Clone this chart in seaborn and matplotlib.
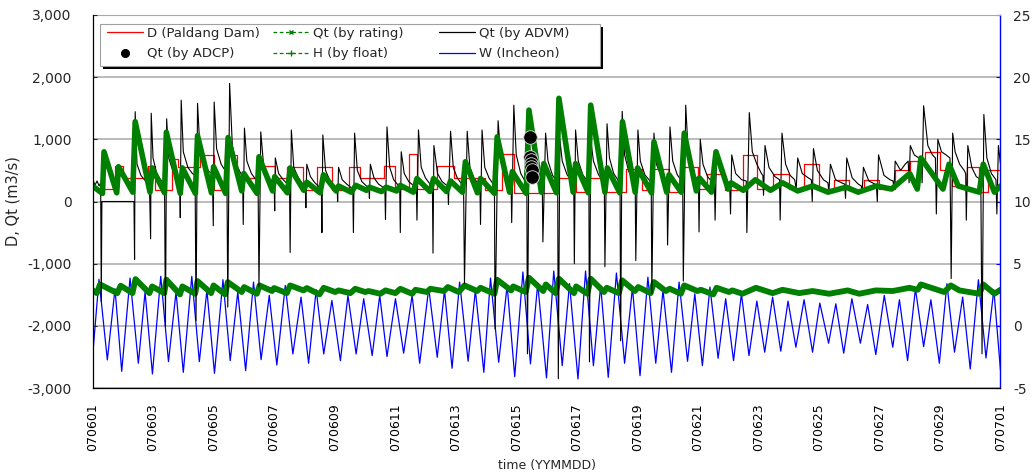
import numpy as np
import pandas as pd
import matplotlib
matplotlib.use("Agg")
import matplotlib.pyplot as plt
from matplotlib.lines import Line2D
from matplotlib.patches import Rectangle
from matplotlib.ticker import FuncFormatter, MultipleLocator
import seaborn as sns

# ---------------- data (time in days since 2007-06-01 00:00) ----------------
x_tick_labels = ["070601", "070603", "070605", "070607", "070609", "070611", "070613", "070615",
                 "070617", "070619", "070621", "070623", "070625", "070627", "070629", "070701"]

# W (Incheon) tide level [m], right axis: extrema
W_t = [0.00, 0.215, 0.49, 0.744, 0.965, 1.24, 1.515, 1.737, 1.98, 2.255,
       2.51, 2.76, 3.00, 3.28, 3.53, 3.78, 4.03, 4.31, 4.55, 4.80,
       5.06, 5.32, 5.57, 5.84, 6.09, 6.37, 6.62, 6.89, 7.14, 7.39,
       7.64, 7.91, 8.19, 8.44, 8.71, 8.96, 9.24, 9.49, 9.73, 10.01,
       10.28, 10.56, 10.81, 11.11, 11.39, 11.63, 11.88, 12.13, 12.41, 12.65,
       12.93, 13.15, 13.42, 13.70, 13.95, 14.22, 14.47, 14.71, 15.00, 15.24,
       15.52, 15.76, 16.04, 16.29, 16.55, 16.79, 17.04, 17.31, 17.58, 17.84,
       18.09, 18.35, 18.61, 18.85, 19.13, 19.38, 19.66, 19.90, 20.15, 20.40,
       20.67, 20.92, 21.18, 21.44, 21.69, 21.95, 22.21, 22.47, 22.74, 22.98,
       23.24, 23.51, 23.79, 24.03, 24.32, 24.56, 24.82, 25.09, 25.37, 25.61,
       25.88, 26.16, 26.44, 26.66, 26.93, 27.19, 27.46, 27.70, 27.98, 28.23,
       28.48, 28.75, 29.00, 29.27, 29.52, 29.78, 30.00]
W_v = [-2.53, 3.74, -2.74, 2.98, -3.66, 3.84, -3.01, 2.72, -3.87, 3.98,
       -2.88, 2.72, -3.74, 3.98, -2.88, 2.85, -3.82, 3.71, -2.80, 2.72,
       -3.60, 3.52, -2.72, 2.45, -3.15, 3.25, -2.26, 2.31, -3.01, 2.90,
       -2.26, 2.04, -2.80, 2.45, -2.26, 2.18, -2.39, 2.45, -2.47, 2.18,
       -2.20, 2.45, -3.01, 3.04, -2.53, 2.85, -3.41, 3.52, -2.85, 2.85,
       -3.74, 3.84, -2.93, 3.25, -4.09, 4.33, -3.06, 3.39, -4.19, 4.41,
       -3.20, 3.39, -4.27, 4.41, -3.20, 3.25, -4.14, 4.25, -3.01, 3.06,
       -4.01, 3.92, -3.01, 2.85, -3.74, 3.52, -2.85, 2.58, -3.20, 3.12,
       -2.61, 2.18, -2.80, 2.58, -2.39, 1.99, -2.12, 2.31, -2.04, 1.99,
       -1.72, 2.10, -2.12, 1.83, -1.40, 1.77, -2.20, 2.18, -1.40, 1.72,
       -2.31, 2.45, -1.72, 2.10, -2.80, 2.98, -1.67, 2.10, -3.01, 3.39,
       -2.12, 2.31, -3.47, 3.71, -2.58, 2.90, -3.60]

# H (by float) [m], right axis
H_t = [0.00, 0.14, 0.25, 0.82, 0.93, 1.32, 1.42, 1.88, 1.97, 2.37,
       2.44, 2.89, 2.97, 3.39, 3.47, 3.92, 4.00, 4.38, 4.47, 4.93,
       5.01, 5.43, 5.52, 5.93, 6.00, 6.42, 6.53, 6.97, 7.08, 7.50,
       7.64, 8.02, 8.13, 8.52, 8.68, 9.01, 9.12, 9.51, 9.68, 10.01,
       10.17, 10.56, 10.67, 11.05, 11.16, 11.61, 11.74, 12.10, 12.29, 12.71,
       12.82, 13.28, 13.37, 13.83, 13.90, 14.31, 14.42, 14.89, 14.98, 15.30,
       15.41, 15.91, 15.98, 16.35, 16.46, 16.90, 16.99, 17.39, 17.50, 17.92,
       18.03, 18.44, 18.55, 18.94, 19.07, 19.44, 19.55, 19.99, 20.10, 20.51,
       20.62, 21.03, 21.14, 21.47, 21.92, 22.47, 22.80, 23.35, 23.79, 24.34,
       24.95, 25.33, 25.88, 26.44, 26.99, 27.26, 27.37, 28.14, 28.36, 28.64,
       29.30, 29.43, 29.80, 30.00]
H_v = [2.85, 2.63, 3.33, 2.63, 3.23, 2.63, 3.76, 2.63, 3.17, 2.63,
       3.71, 2.53, 3.17, 2.58, 3.60, 2.63, 3.25, 2.53, 3.52, 2.72,
       3.12, 2.58, 3.25, 2.80, 3.04, 2.63, 3.25, 2.85, 3.04, 2.53,
       3.06, 2.72, 2.85, 2.63, 2.98, 2.72, 2.80, 2.58, 2.85, 2.63,
       2.98, 2.58, 2.90, 2.72, 2.98, 2.80, 3.12, 2.72, 3.25, 2.80,
       3.06, 2.58, 3.71, 2.85, 3.17, 2.72, 3.87, 2.80, 3.33, 2.63,
       3.79, 2.63, 3.17, 2.58, 3.79, 2.72, 3.06, 2.63, 3.66, 2.80,
       3.12, 2.63, 3.52, 2.80, 2.98, 2.58, 3.25, 2.80, 2.90, 2.53,
       3.06, 2.72, 2.85, 2.58, 3.06, 2.63, 2.90, 2.63, 2.80, 2.58,
       2.85, 2.58, 2.85, 2.80, 3.06, 2.90, 3.33, 2.72, 3.25, 2.85,
       2.58, 3.33, 2.58, 2.90]

# D (Paldang Dam) [m3/s], step series
D_t = [0.0, 0.74, 1.02, 1.85, 2.07, 2.62, 2.84, 3.56, 4.0, 4.38,
       4.77, 5.54, 6.04, 6.42, 6.97, 7.42, 7.91, 8.46, 8.85, 9.62,
       10.01, 10.45, 10.72, 11.39, 11.94, 12.98, 13.54, 13.92, 15.30, 15.96,
       16.40, 16.95, 17.62, 18.17, 18.50, 19.05, 19.43, 20.0, 20.3, 20.9,
       21.5, 21.95, 22.5, 23.0, 23.5, 24.0, 24.5, 25.0, 25.5, 26.0,
       26.5, 27.0, 27.5, 28.0, 28.4, 28.9, 29.3, 29.6, 30.0]
D_v = [200, 570, 370, 570, 180, 690, 560, 750, 180, 740,
       370, 570, 370, 560, 180, 560, 180, 560, 370, 570,
       200, 760, 200, 570, 370, 180, 760, 130, 370, 150,
       370, 150, 530, 180, 530, 150, 560, 200, 450, 180,
       750, 200, 450, 200, 600, 200, 350, 180, 350, 200,
       500, 650, 800, 500, 250, 550, 150, 500, 500]

# Qt (by rating) [m3/s]
R_t = [0.00, 0.33, 0.38, 0.80, 0.86, 1.33, 1.41, 1.90, 1.97, 2.38,
       2.44, 2.90, 2.97, 3.40, 3.47, 3.93, 4.00, 4.40, 4.48, 4.93,
       5.00, 5.44, 5.50, 5.95, 6.02, 6.44, 6.53, 6.98, 7.08, 7.52,
       7.63, 8.05, 8.13, 8.55, 8.70, 9.05, 9.15, 9.55, 9.70, 10.05,
       10.17, 10.60, 10.72, 11.15, 11.27, 11.70, 11.83, 12.22, 12.32, 12.72,
       12.82, 13.28, 13.37, 13.78, 13.87, 14.33, 14.42, 14.83, 14.91, 15.33,
       15.41, 15.88, 15.96, 16.38, 16.46, 16.93, 17.01, 17.42, 17.51, 17.93,
       18.01, 18.47, 18.55, 18.97, 19.05, 19.45, 19.55, 19.95, 20.05, 20.45,
       20.60, 21.00, 21.10, 21.50, 21.90, 22.40, 22.80, 23.30, 23.80, 24.30,
       24.90, 25.30, 25.90, 26.40, 27.00, 27.25, 27.37, 28.10, 28.30, 28.60,
       29.30, 29.43, 29.80, 30.00]
R_v = [250, 130, 800, 140, 560, 150, 1285, 150, 540, 140,
       1115, 130, 540, 130, 1060, 140, 560, 130, 1030, 170,
       450, 130, 720, 170, 400, 140, 540, 180, 310, 140,
       430, 170, 250, 150, 260, 180, 230, 160, 230, 170,
       260, 150, 370, 160, 370, 160, 330, 150, 640, 140,
       370, 130, 1040, 150, 480, 130, 1470, 150, 610, 140,
       1660, 150, 610, 140, 1550, 150, 540, 140, 1285, 150,
       540, 140, 960, 150, 430, 150, 1100, 170, 380, 150,
       800, 200, 300, 180, 350, 180, 300, 170, 250, 150,
       230, 150, 250, 200, 450, 200, 700, 200, 600, 250,
       150, 600, 150, 250]

# Qt (by ADVM) [m3/s]
A_t = [0.00, 0.08, 0.15, 0.22, 0.27, 0.29, 0.31, 1.37, 1.39, 1.41,
       1.47, 1.60, 1.75, 1.88, 1.92, 1.94, 2.00, 2.12, 2.25, 2.38,
       2.41, 2.45, 2.52, 2.65, 2.80, 2.88, 2.90, 2.93, 3.00, 3.15,
       3.30, 3.39, 3.42, 3.47, 3.55, 3.70, 3.85, 3.96, 3.99, 4.02,
       4.10, 4.25, 4.38, 4.44, 4.47, 4.53, 4.62, 4.75, 4.90, 4.96,
       4.98, 5.02, 5.10, 5.25, 5.40, 5.47, 5.50, 5.56, 5.65, 5.80,
       5.95, 6.00, 6.02, 6.04, 6.15, 6.30, 6.45, 6.51, 6.53, 6.57,
       6.65, 6.80, 6.95, 7.03, 7.05, 7.08, 7.20, 7.35, 7.50, 7.56,
       7.58, 7.61, 7.70, 7.85, 8.00, 8.08, 8.10, 8.13, 8.25, 8.40,
       8.55, 8.60, 8.62, 8.66, 8.75, 8.90, 9.05, 9.13, 9.15, 9.18,
       9.30, 9.45, 9.60, 9.66, 9.68, 9.73, 9.82, 9.95, 10.10, 10.15,
       10.17, 10.20, 10.30, 10.45, 10.62, 10.70, 10.72, 10.77, 10.86, 11.00,
       11.15, 11.23, 11.25, 11.28, 11.40, 11.55, 11.70, 11.74, 11.76, 11.83,
       11.92, 12.05, 12.20, 12.26, 12.29, 12.38, 12.47, 12.60, 12.75, 12.80,
       12.82, 12.87, 12.96, 13.10, 13.24, 13.28, 13.30, 13.40, 13.50, 13.65,
       13.80, 13.83, 13.85, 13.92, 14.00, 14.15, 14.30, 14.35, 14.37, 14.42,
       14.50, 14.65, 14.82, 14.86, 14.88, 14.97, 15.05, 15.20, 15.34, 15.37,
       15.39, 15.44, 15.52, 15.68, 15.85, 15.90, 15.92, 15.96, 16.05, 16.20,
       16.36, 16.40, 16.42, 16.46, 16.55, 16.72, 16.88, 16.91, 16.93, 17.00,
       17.08, 17.22, 17.38, 17.43, 17.45, 17.50, 17.58, 17.72, 17.88, 17.93,
       17.95, 18.02, 18.10, 18.25, 18.42, 18.46, 18.48, 18.55, 18.63, 18.78,
       18.95, 18.98, 19.00, 19.08, 19.17, 19.32, 19.48, 19.50, 19.52, 19.60,
       19.68, 19.82, 19.98, 20.02, 20.04, 20.08, 20.17, 20.32, 20.50, 20.55,
       20.57, 20.62, 20.72, 20.90, 21.05, 21.08, 21.12, 21.25, 21.45, 21.60,
       21.62, 21.70, 21.80, 21.95, 22.10, 22.15, 22.17, 22.22, 22.35, 22.55,
       22.70, 22.72, 22.78, 22.90, 23.05, 23.20, 23.25, 23.30, 23.45, 23.65,
       23.75, 23.78, 23.82, 23.95, 24.15, 24.30, 24.33, 24.38, 24.55, 24.75,
       24.85, 24.88, 24.92, 25.10, 25.30, 25.40, 25.43, 25.47, 25.65, 25.85,
       25.90, 25.93, 25.97, 26.15, 26.35, 26.45, 26.48, 26.52, 26.70, 26.85,
       26.95, 26.98, 27.02, 27.15, 27.30, 27.38, 27.41, 27.46, 27.60, 27.75,
       27.85, 27.88, 27.93, 28.05, 28.20, 28.33, 28.37, 28.42, 28.50, 28.65,
       28.80, 28.85, 28.87, 28.92, 29.05, 29.20, 29.35, 29.39, 29.45, 29.55,
       29.70, 29.85, 29.88, 29.93, 30.00]
A_v = [370, 260, 330, 250, 300, -1610, 0, 0, -930, 1445,
       600, 420, 330, 300, -600, 1420, 700, 450, 350, 300,
       -2000, 1330, 700, 500, 380, 350, -260, 1630, 800, 550,
       450, 420, -1915, 1580, 850, 600, 480, 450, -390, 1600,
       850, 600, 500, 450, -1700, 1900, 900, 600, 450, 400,
       -370, 1180, 650, 450, 350, 320, -1370, 1120, 600, 400,
       320, 300, -150, 700, 450, 350, 280, 260, -820, 1150,
       550, 380, 280, 250, -100, 600, 400, 300, 230, 220,
       -500, 1070, 500, 330, 250, 230, 0, 550, 350, 280,
       220, 200, -500, 1100, 500, 320, 250, 220, 50, 600,
       380, 280, 230, 210, -290, 1200, 550, 350, 260, 240,
       -500, 800, 450, 320, 250, 230, -300, 1150, 550, 380,
       280, 250, -830, 900, 450, 320, 260, 250, -50, 1130,
       550, 380, 280, 250, -1320, 1130, 550, 380, 280, 250,
       -370, 1150, 550, 380, 280, 250, -2050, 1300, 650, 420,
       300, 280, -340, 1550, 750, 450, 320, 300, -2450, 1000,
       600, 420, 320, 300, -650, 1100, 650, 420, 320, 300,
       -2850, 1000, 650, 430, 320, 300, -1000, 1150, 650, 430,
       320, 300, -2580, 1000, 650, 430, 320, 300, -1050, 1250,
       700, 450, 330, 300, -2240, 1450, 750, 480, 350, 320,
       -950, 1150, 650, 430, 330, 300, -1480, 1100, 600, 420,
       320, 300, -700, 1200, 650, 430, 320, 300, -1280, 1550,
       800, 500, 350, 320, -490, 1000, 600, 400, 300, 280,
       -300, 800, 500, 330, 300, -200, 750, 450, 350, 330,
       -500, 1430, 800, 600, 450, 420, 100, 900, 550, 400,
       350, -300, 1100, 600, 420, 350, 200, 700, 450, 380,
       350, 0, 850, 500, 350, 300, 150, 600, 350, 300,
       280, 50, 700, 380, 280, 250, 150, 550, 330, 280,
       250, 0, 750, 420, 350, 330, 200, 650, 500, 600,
       650, 300, 900, 750, 700, 700, 300, 1540, 900, 750,
       700, -200, 1000, 800, 750, 700, -1240, 1100, 800, 600,
       500, 450, -300, 900, 550, 400, 350, -2450, 1400, 700,
       450, 350, -200, 900, 600]

# Qt (by ADCP) [m3/s]
C_t = [14.44, 14.47, 14.48, 14.49, 14.50, 14.51, 14.52]
C_v = [1045, 720, 665, 610, 560, 505, 400]

# ---------------- figure ----------------
sns.set_style("white")
plt.rcParams["font.family"] = ["DejaVu Sans"]

W_PX, H_PX = 1034, 476
fig = plt.figure(figsize=(W_PX / 100, H_PX / 100), dpi=100)
L, R, T, B = 92.5, 1000.5, 15, 388
ax = fig.add_axes([L / W_PX, 1 - B / H_PX, (R - L) / W_PX, (B - T) / H_PX])
ax2 = ax.twinx()
ax.set_zorder(ax2.get_zorder() + 1)
ax.patch.set_visible(False)

RED, GREEN, BLUE = "#ff0000", "#008000", "#0000ff"

# right axis series (drawn underneath)
sns.lineplot(x=W_t, y=W_v, ax=ax2, color=BLUE, lw=0.9, estimator=None, sort=False, legend=False)
sns.lineplot(x=H_t, y=H_v, ax=ax2, color=GREEN, lw=4.2, estimator=None, sort=False, legend=False)

# left axis series
sns.lineplot(x=D_t, y=D_v, ax=ax, color=RED, lw=0.9, estimator=None, sort=False,
             legend=False, drawstyle="steps-post")
sns.lineplot(x=A_t, y=A_v, ax=ax, color="black", lw=0.8, estimator=None, sort=False, legend=False)
sns.lineplot(x=R_t, y=R_v, ax=ax, color=GREEN, lw=4.0, estimator=None, sort=False, legend=False)
sns.scatterplot(x=C_t, y=C_v, ax=ax, color="black", s=95, edgecolor="#dddddd", linewidth=0.6,
                legend=False, zorder=5)

# axes limits / ticks
ax.set_xlim(0, 30)
ax.set_ylim(-3000, 3000)
ax2.set_ylim(-5, 25)
ax.yaxis.set_major_locator(MultipleLocator(1000))
ax.yaxis.set_major_formatter(FuncFormatter(lambda v, p: f"{v:,.0f}"))
ax2.yaxis.set_major_locator(MultipleLocator(5))
ax2.yaxis.set_major_formatter(FuncFormatter(lambda v, p: f"{v:.0f}"))
ax.set_xticks(np.arange(0, 31, 2))
ax.set_xticklabels(x_tick_labels, rotation=90)
ax.xaxis.set_minor_locator(MultipleLocator(1))

ax.tick_params(axis="x", which="major", direction="inout", length=6, width=0.8, pad=8,
               labelsize=9, colors="black")
ax.tick_params(axis="x", which="minor", direction="in", length=3, width=0.8)
ax.tick_params(axis="y", which="major", direction="in", length=3, width=0.8, pad=15, labelsize=10)
ax2.tick_params(axis="y", which="major", direction="in", length=3, width=0.8, pad=9,
                labelsize=10, color=BLUE)

ax2.yaxis.grid(True, color="#a8a8a8", lw=1.1)
ax.grid(False)

for s in ["left", "bottom"]:
    ax.spines[s].set_color("black")
    ax.spines[s].set_linewidth(0.9)
ax.spines["top"].set_visible(False)
ax.spines["right"].set_visible(False)
ax2.spines["right"].set_color(BLUE)
ax2.spines["right"].set_linewidth(1.0)
ax2.spines["top"].set_color("#a8a8a8")
ax2.spines["left"].set_visible(False)
ax2.spines["bottom"].set_visible(False)

ax.set_ylabel("D, Qt (m3/s)", fontsize=10.5, labelpad=5)
ax.set_xlabel("time (YYMMDD)", fontsize=9, labelpad=6)

# legend: white box with black drop shadow, three equal-width columns
def fx(px):
    return px / W_PX

def fy(py):
    return 1 - py / H_PX

box_l, box_r, box_t, box_b = 100, 600, 24, 66
fig.add_artist(Rectangle((fx(box_l + 3), fy(box_b + 3)), fx(box_r - box_l), (box_b - box_t) / H_PX,
                         transform=fig.transFigure, facecolor="black", edgecolor="none", zorder=20))
fig.add_artist(Rectangle((fx(box_l), fy(box_b)), fx(box_r - box_l), (box_b - box_t) / H_PX,
                         transform=fig.transFigure, facecolor="white", edgecolor="#a0a0a0",
                         lw=0.8, zorder=21))

columns = [
    ([Line2D([], [], color=RED, lw=0.9),
      Line2D([], [], color="black", marker="o", ls="none", markersize=5.5)],
     ["D (Paldang Dam)", "Qt (by ADCP)"], 107),
    ([Line2D([], [], color=GREEN, lw=0.9, ls=(0, (3, 2)), marker="x", markersize=3, markevery=[1]),
      Line2D([], [], color=GREEN, lw=0.9, ls=(0, (3, 2)), marker="+", markersize=4, markevery=[1])],
     ["Qt (by rating)", "H (by float)"], 273),
    ([Line2D([], [], color="black", lw=0.9),
      Line2D([], [], color=BLUE, lw=0.9)],
     ["Qt (by ADVM)", "W (Incheon)"], 439),
]
for hs, ls_, xpx in columns:
    lg = fig.legend(hs, ls_, loc="upper left", bbox_to_anchor=(fx(xpx), fy(27)),
                    bbox_transform=fig.transFigure, frameon=False, fontsize=9.5,
                    handlelength=2.7, handletextpad=0.3, borderpad=0, borderaxespad=0,
                    labelspacing=0.55)
    lg.set_zorder(22)

fig.savefig("out.png", dpi=100)
